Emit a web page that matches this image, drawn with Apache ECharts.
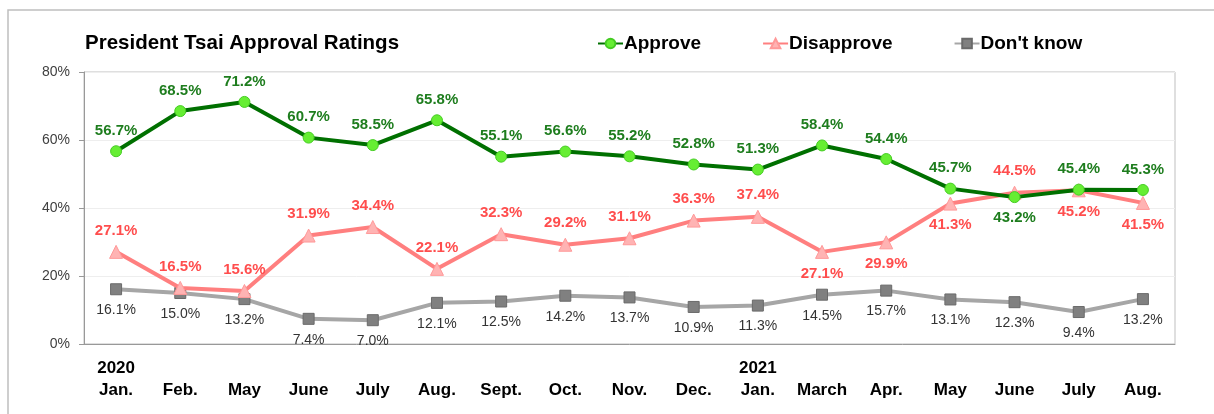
<!DOCTYPE html>
<html>
<head>
<meta charset="utf-8">
<script src="https://cdn.jsdelivr.net/npm/echarts@6/dist/echarts.min.js"></script>
<style>
  html, body { margin: 0; padding: 0; background: #fff; }
  #chart { width: 1214px; height: 414px; }
</style>
</head>
<body>
<div id="chart"></div>
<script>
// month labels, year shown on first line where it changes
var months = ['Jan.', 'Feb.', 'May', 'June', 'July', 'Aug.', 'Sept.', 'Oct.', 'Nov.', 'Dec.',
  'Jan.', 'March', 'Apr.', 'May', 'June', 'July', 'Aug.'];
var years = ['2020', '', '', '', '', '', '', '', '', '', '2021', '', '', '', '', '', ''];

var approve = [56.7, 68.5, 71.2, 60.7, 58.5, 65.8, 55.1, 56.6, 55.2, 52.8, 51.3, 58.4, 54.4, 45.7, 43.2, 45.4, 45.3];
var disapprove = [27.1, 16.5, 15.6, 31.9, 34.4, 22.1, 32.3, 29.2, 31.1, 36.3, 37.4, 27.1, 29.9, 41.3, 44.5, 45.2, 41.5];
var dontKnow = [16.1, 15.0, 13.2, 7.4, 7.0, 12.1, 12.5, 14.2, 13.7, 10.9, 11.3, 14.5, 15.7, 13.1, 12.3, 9.4, 13.2];

// which points have their label under the marker
var approveBelow = [14];
var disapproveBelow = [11, 12, 13, 15, 16];

var categories = months.map(function (m, i) { return years[i] + '\n' + m; });

function withLabelPos(values, below) {
  return values.map(function (v, i) {
    return {
      value: v,
      label: { position: below.indexOf(i) >= 0 ? 'bottom' : 'top' }
    };
  });
}

var chart = echarts.init(document.getElementById('chart'));
var option = {
  animation: false,
  textStyle: { fontFamily: 'Liberation Sans, Arial, sans-serif' },
  title: {
    text: 'President Tsai Approval Ratings',
    left: 85,
    top: 33,
    padding: 0,
    textStyle: { fontSize: 20.5, fontWeight: 'bold', color: '#000' }
  },
  legend: {
    left: 597,
    top: 34,
    padding: 0,
    itemWidth: 25,
    itemHeight: 12,
    itemGap: 61,
    textStyle: { fontSize: 19, fontWeight: 'bold', color: '#000', padding: [0, 0, 0, -4] },
    data: ['Approve', 'Disapprove', "Don't know"]
  },
  graphic: [{
    type: 'rect',
    shape: { x: 8, y: 10, width: 1220, height: 420 },
    style: { fill: 'none', stroke: '#bfbfbf', lineWidth: 1.5 },
    silent: true
  }],
  grid: {
    left: 84, right: 39, top: 72, bottom: 70,
    show: true, borderColor: '#bfbfbf', borderWidth: 1
  },
  xAxis: {
    type: 'category',
    data: categories,
    boundaryGap: true,
    axisLine: { lineStyle: { color: '#999' } },
    axisTick: { inside: true, length: 10, lineStyle: { color: '#bbb' } },
    axisLabel: {
      interval: 0,
      margin: 13,
      fontSize: 17,
      fontWeight: 'bold',
      color: '#000',
      lineHeight: 22
    }
  },
  yAxis: {
    type: 'value',
    min: 0,
    max: 80,
    interval: 20,
    axisLine: { show: true, lineStyle: { color: '#999' } },
    axisTick: { show: true, length: 5, lineStyle: { color: '#999' } },
    axisLabel: { formatter: '{value}%', fontSize: 14, color: '#404040', margin: 14 },
    splitLine: { lineStyle: { color: '#eeeeee' } }
  },
  series: [{
    name: 'Approve',
    type: 'line',
    data: withLabelPos(approve, approveBelow),
    symbol: 'circle',
    symbolSize: 11,
    lineStyle: { color: '#007000', width: 4 },
    itemStyle: { color: '#66ee33', borderColor: '#44cc22', borderWidth: 1 },
    label: {
      show: true, distance: 7, formatter: '{c}%',
      fontSize: 15, fontWeight: 'bold', color: '#1e7d1e'
    },
    z: 4
  }, {
    name: 'Disapprove',
    type: 'line',
    data: withLabelPos(disapprove, disapproveBelow),
    symbol: 'triangle',
    symbolSize: 13,
    lineStyle: { color: '#ff7f7f', width: 4 },
    itemStyle: { color: '#ffb3b3', borderColor: '#ff9999', borderWidth: 1 },
    label: {
      show: true, distance: 7, formatter: '{c}%',
      fontSize: 15, fontWeight: 'bold', color: '#ff4d4d'
    },
    z: 3
  }, {
    name: "Don't know",
    type: 'line',
    data: dontKnow,
    symbol: 'rect',
    symbolSize: 11,
    lineStyle: { color: '#a6a6a6', width: 4 },
    itemStyle: { color: '#808080', borderColor: '#6a6a6a', borderWidth: 1 },
    label: {
      show: true, position: 'bottom', distance: 8,
      formatter: function (p) { return p.value.toFixed(1) + '%'; },
      fontSize: 14, color: '#333'
    },
    z: 2
  }]
};
chart.setOption(option);
</script>
</body>
</html>
